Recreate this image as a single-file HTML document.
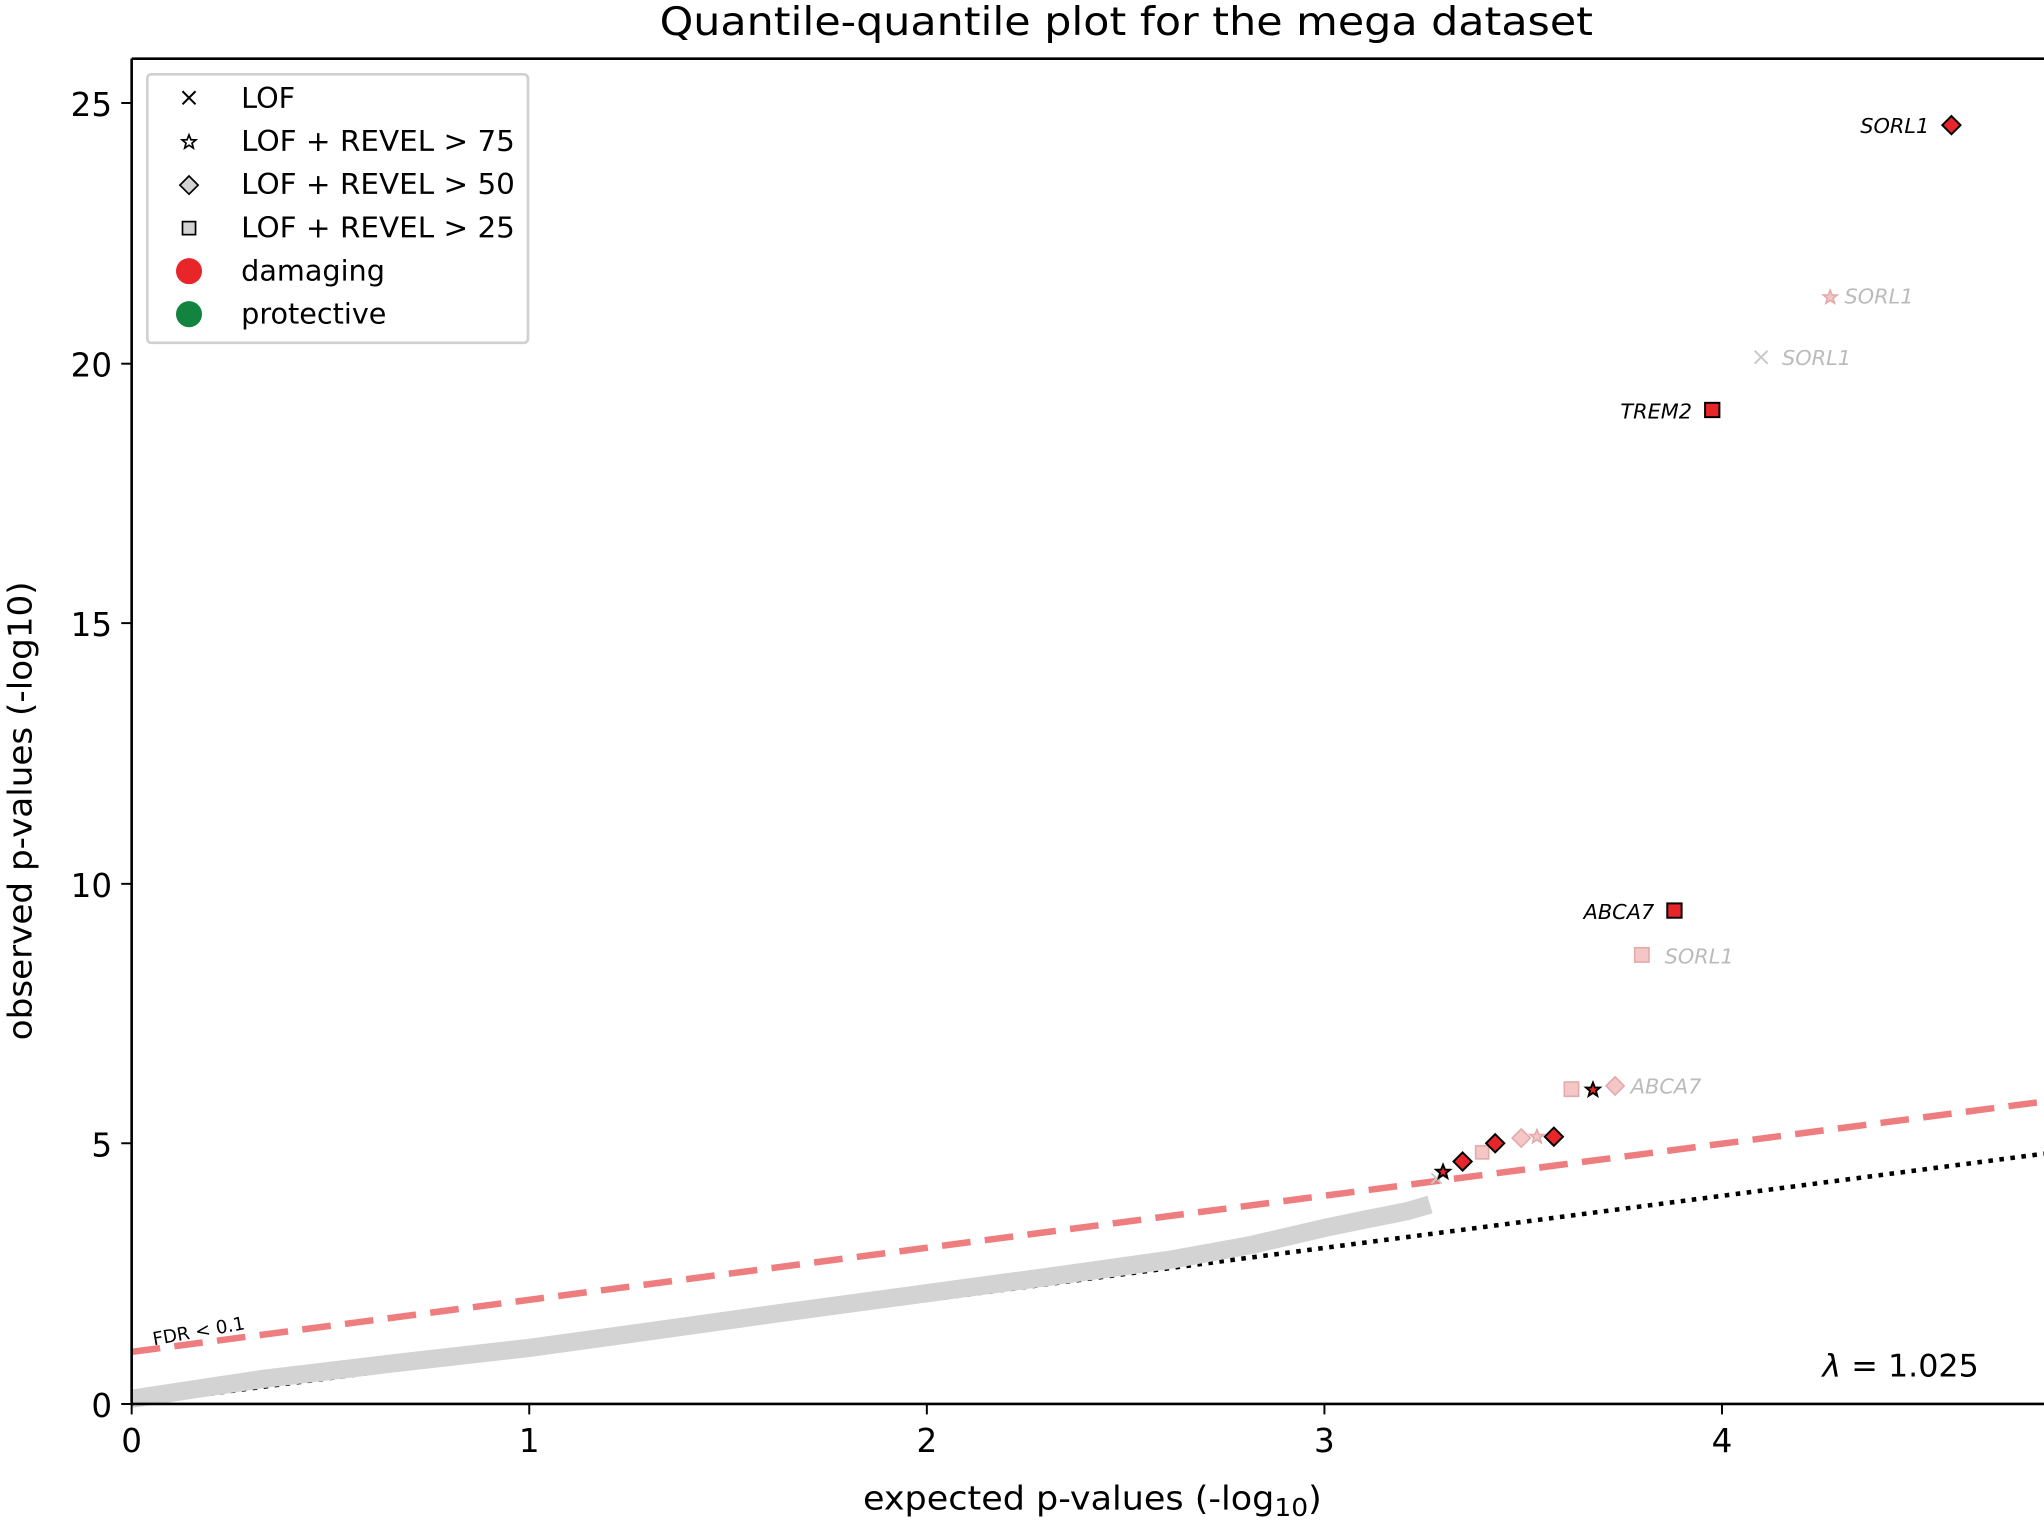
<!DOCTYPE html>
<html><head><meta charset="utf-8"><style>html,body{margin:0;padding:0;background:#fff}svg{display:block}text{font-family:"DejaVu Sans","Liberation Sans",sans-serif}</style></head>
<body>
<svg width="2044" height="1520" viewBox="0 0 1568 1166" preserveAspectRatio="none" xmlns="http://www.w3.org/2000/svg">
<defs>
<g id="dia"><path d="M0,-7 L7,0 L0,7 L-7,0 Z"/></g>
<g id="star"><path d="M0,-5.5 L1.5,-1.8 L5.3,-1.7 L2.3,0.8 L3.3,4.6 L0,2.4 L-3.3,4.6 L-2.3,0.8 L-5.3,-1.7 L-1.5,-1.8 Z"/></g>
</defs>
<text x="506" y="27" font-size="30" textLength="716" lengthAdjust="spacingAndGlyphs">Quantile-quantile plot for the mega dataset</text>
<line x1="101" y1="1077" x2="1568" y2="885" stroke="#000" stroke-width="3.5" stroke-dasharray="3.5,5"/>
<polyline fill="none" stroke="#d3d3d3" stroke-width="14" stroke-linejoin="round" points="101,1073 200,1058 300,1046 406,1034 500,1021 600,1007 711,992 800,980 900,966 960,955 1016,942 1050,935 1080,929 1097,924"/>
<line x1="101" y1="1037" x2="1568" y2="845" stroke="#ee7d7f" stroke-width="5" stroke-dasharray="22,11"/>
<text x="0" y="0" font-size="14" transform="translate(118,1032) rotate(-10)">FDR &lt; 0.1</text>
<g fill="#f5c6c6" stroke="#e3a9a9" stroke-width="1.2">
<rect x="1200" y="830" width="11" height="11"/>
<rect x="1254" y="727" width="11" height="11"/>
<rect x="1132" y="879" width="10" height="10"/>
<use href="#dia" x="1167" y="873"/>
<use href="#dia" x="1239" y="833"/>
<use href="#star" x="1404" y="228"/>
<use href="#star" x="1179" y="872"/>
</g>
<g stroke="#c8c8c8" stroke-width="1.5"><path d="M1346,269 l10,10 M1356,269 l-10,10 M1098,900 l8,8 M1106,900 l-8,8"/></g>
<g font-size="16" font-style="italic" fill="#bbb">
<text x="1415" y="233">SORL1</text>
<text x="1367" y="280">SORL1</text>
<text x="1277" y="739">SORL1</text>
<text x="1251" y="839">ABCA7</text>
</g>
<g fill="#e8262a" stroke="#000" stroke-width="1.5">
<use href="#dia" x="1497" y="96"/>
<rect x="1308" y="309" width="11" height="11"/>
<rect x="1279" y="693" width="11" height="11"/>
<use href="#dia" x="1192" y="872"/>
<use href="#dia" x="1147" y="877"/>
<use href="#dia" x="1122" y="891"/>
<use href="#star" x="1107" y="899"/>
<use href="#star" x="1222" y="836"/>
</g>
<g font-size="16" font-style="italic" fill="#000" text-anchor="end">
<text x="1480" y="102">SORL1</text>
<text x="1298" y="321">TREM2</text>
<text x="1269" y="705">ABCA7</text>
</g>
<text x="1398" y="1056" font-size="24" textLength="120" lengthAdjust="spacingAndGlyphs"><tspan font-style="italic">λ</tspan> =  1.025</text>
<path d="M101,45 L101,1077 L1568,1077" fill="none" stroke="#000" stroke-width="2"/>
<line x1="101" y1="45" x2="1568" y2="45" stroke="#000" stroke-width="2"/>
<g stroke="#000" stroke-width="1.5">
<line x1="101" y1="1077" x2="101" y2="1085"/><line x1="406" y1="1077" x2="406" y2="1085"/><line x1="711" y1="1077" x2="711" y2="1085"/><line x1="1016" y1="1077" x2="1016" y2="1085"/><line x1="1321" y1="1077" x2="1321" y2="1085"/>
<line x1="93" y1="1077" x2="101" y2="1077"/><line x1="93" y1="877" x2="101" y2="877"/><line x1="93" y1="678" x2="101" y2="678"/><line x1="93" y1="478" x2="101" y2="478"/><line x1="93" y1="279" x2="101" y2="279"/><line x1="93" y1="79" x2="101" y2="79"/>
</g>
<g font-size="25" text-anchor="middle">
<text x="101" y="1114">0</text><text x="406" y="1114">1</text><text x="711" y="1114">2</text><text x="1016" y="1114">3</text><text x="1321" y="1114">4</text>
</g>
<g font-size="25" text-anchor="end">
<text x="86" y="1087">0</text><text x="86" y="887">5</text><text x="86" y="688">10</text><text x="86" y="488">15</text><text x="86" y="289">20</text><text x="86" y="89">25</text>
</g>
<text x="662" y="1158" font-size="25" textLength="352" lengthAdjust="spacingAndGlyphs">expected p-values (-log<tspan font-size="19" dy="5">10</tspan><tspan dy="-5">)</tspan></text>
<text x="0" y="0" font-size="25" transform="translate(24,798) rotate(-90)" textLength="352" lengthAdjust="spacingAndGlyphs">observed p-values (-log10)</text>
<rect x="113" y="57" width="292" height="206" rx="3" fill="#fff" stroke="#d0d0d0" stroke-width="2"/>
<path d="M140,70 l10,10 M150,70 l-10,10" stroke="#000" stroke-width="1.5"/>
<use href="#star" x="145" y="109" fill="#fff" stroke="#000" stroke-width="1.3"/>
<path d="M145,135 L152,142 L145,149 L138,142 Z" fill="#d3d3d3" stroke="#000" stroke-width="1.3"/>
<rect x="140" y="170" width="10" height="10" fill="#d3d3d3" stroke="#000" stroke-width="1.3"/>
<circle cx="145" cy="208" r="10" fill="#e8262a"/>
<circle cx="145" cy="241" r="10" fill="#13843f"/>
<g font-size="22">
<text x="185" y="83">LOF</text>
<text x="185" y="116" textLength="210" lengthAdjust="spacingAndGlyphs">LOF + REVEL &gt; 75</text>
<text x="185" y="149" textLength="210" lengthAdjust="spacingAndGlyphs">LOF + REVEL &gt; 50</text>
<text x="185" y="182" textLength="210" lengthAdjust="spacingAndGlyphs">LOF + REVEL &gt; 25</text>
<text x="185" y="215">damaging</text>
<text x="185" y="248">protective</text>
</g>
</svg>
</body></html>
